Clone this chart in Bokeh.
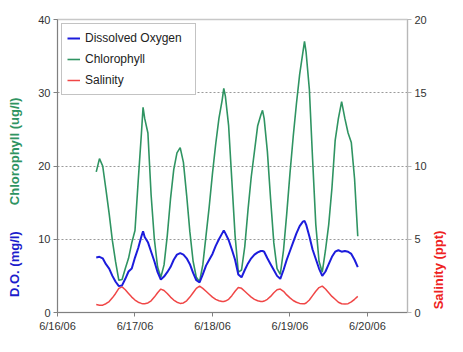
from math import pi
from bokeh.plotting import figure
from bokeh.layouts import row
from bokeh.models import Range1d, LinearAxis, FixedTicker, Legend, LegendItem
from bokeh.core.properties import value
from bokeh.embed import file_html
from bokeh.resources import INLINE

# hours after 6/16/06 00:00
hours = [12, 13, 14, 15, 16, 17, 18, 19, 20, 21, 22, 23, 24, 25, 26, 26.5,
         27, 28, 29, 30, 31, 32, 33, 34, 35, 36, 37, 38, 39, 40, 41, 42, 43,
         44, 45, 46, 47, 48, 49, 50, 51, 51.5, 52, 53, 54, 55, 56, 57, 58, 59,
         60, 61, 62, 63, 63.5, 64, 65, 66, 67, 68, 69, 70, 71, 72, 73, 74, 75,
         76, 76.5, 77, 78, 79, 80, 81, 82, 83, 84, 85, 86, 87, 88, 89, 90, 91,
         92, 93]

chlorophyll = [19.2, 21.0, 20.0, 16.8, 13.5, 9.8, 6.9, 4.4, 4.5, 6.0, 7.4, 9.5,
               11.2, 18.0, 24.5, 28.0, 26.5, 24.5, 16.0, 10.0, 6.2, 4.8, 6.5,
               10.5, 15.5, 19.5, 21.8, 22.5, 20.5, 16.0, 11.0, 7.0, 4.8, 4.2,
               6.5, 10.5, 14.5, 19.0, 23.0, 26.5, 29.0, 30.6, 29.5, 25.5, 18.0,
               10.5, 5.5, 5.8, 9.0, 14.0, 18.5, 22.0, 25.5, 27.0, 27.6, 26.5,
               22.0, 15.5, 9.5, 6.0, 5.2, 8.5, 13.5, 19.0, 24.0, 28.5, 32.5,
               35.5, 37.0, 35.5, 30.5, 21.0, 12.0, 7.0, 5.5, 8.5, 12.0, 17.0,
               23.5, 26.5, 28.8, 26.5, 24.5, 23.2, 18.3, 10.4]

dissolved_oxygen = [7.5, 7.6, 7.4, 6.6, 6.0, 5.0, 4.2, 3.6, 3.7, 4.6, 5.6, 6.0,
                    7.5, 8.8, 10.4, 11.1, 10.3, 9.6, 8.3, 7.0, 5.5, 4.5, 4.9,
                    5.5, 6.2, 7.2, 7.9, 8.1, 7.9, 7.4, 6.6, 5.4, 4.4, 4.1, 5.2,
                    6.4, 7.2, 8.0, 9.1, 10.0, 10.8, 11.2, 10.8, 9.9, 8.6, 7.2,
                    5.2, 4.8, 5.8, 6.7, 7.4, 7.9, 8.2, 8.4, 8.4, 8.3, 7.4, 6.6,
                    5.8, 5.0, 4.6, 5.8, 7.2, 8.4, 9.6, 10.8, 11.8, 12.4, 12.5,
                    12.0, 10.4, 8.6, 7.3, 6.0, 5.0, 5.6, 6.6, 7.6, 8.3, 8.5, 8.3,
                    8.4, 8.3, 8.0, 7.2, 6.2]

salinity = [0.55, 0.5, 0.5, 0.6, 0.75, 1.0, 1.3, 1.65, 1.75, 1.55, 1.3, 1.05,
            0.85, 0.7, 0.62, 0.6, 0.6, 0.65, 0.8, 1.05, 1.35, 1.6, 1.5, 1.3,
            1.05, 0.85, 0.7, 0.62, 0.65, 0.8, 1.05, 1.35, 1.65, 1.8, 1.65,
            1.45, 1.25, 1.05, 0.9, 0.8, 0.75, 0.75, 0.78, 0.9, 1.15, 1.45, 1.7,
            1.65, 1.45, 1.25, 1.05, 0.9, 0.8, 0.75, 0.75, 0.78, 0.9, 1.1, 1.35,
            1.55, 1.6, 1.45, 1.2, 1.0, 0.82, 0.7, 0.62, 0.6, 0.6, 0.65, 0.85,
            1.15, 1.45, 1.7, 1.8, 1.6, 1.35, 1.1, 0.9, 0.7, 0.6, 0.58, 0.6,
            0.72, 0.9, 1.1]

x_ticks = [0, 24, 48, 72, 96]
x_tick_labels = ["6/16/06", "6/17/06", "6/18/06", "6/19/06", "6/20/06"]
left_ticks = [0, 10, 20, 30, 40]
right_ticks = [0, 5, 10, 15, 20]

FONT = "Liberation Sans"
C_DO = "#1c1cdc"
C_CHL = "#2f9462"
C_SAL = "#f04646"

H = 336
TOP, BOTTOM = 19, 24
LW, RW = 24, 18

p = figure(width=447 - LW - RW, height=H, output_backend="svg", toolbar_location=None,
           x_range=Range1d(0, 108.4), y_range=Range1d(0, 40),
           min_border_left=33, min_border_right=19, min_border_top=TOP,
           min_border_bottom=BOTTOM, background_fill_color="white",
           border_fill_color="white")
p.outline_line_color = "#c8c8c8"
p.outline_line_width = 1.5

p.extra_y_ranges = {"sal": Range1d(0, 20)}
raxis = LinearAxis(y_range_name="sal", ticker=FixedTicker(ticks=right_ticks))
p.add_layout(raxis, "right")

p.xaxis.ticker = FixedTicker(ticks=x_ticks)
p.xaxis.major_label_overrides = {t: l for t, l in zip(x_ticks, x_tick_labels)}
p.yaxis[0].ticker = FixedTicker(ticks=left_ticks)

for ax in p.axis:
    ax.major_label_text_font = FONT
    ax.major_label_text_font_size = "11px"
    ax.major_label_text_color = "#333333"
    ax.major_tick_in = 0
    ax.major_tick_out = 4
    ax.minor_tick_out = 0
    ax.minor_tick_in = 0
    ax.major_label_standoff = 3
    ax.axis_line_color = "#808080"
    ax.major_tick_line_color = "#808080"
raxis.axis_line_color = "#b8b8b8"
raxis.major_tick_line_color = "#b8b8b8"

p.xgrid.visible = False
p.ygrid.ticker = FixedTicker(ticks=[10, 20, 30])
p.ygrid.grid_line_color = "#9a9a9a"
p.ygrid.grid_line_dash = "2 2"
p.ygrid.grid_line_width = 1

r_chl = p.line(hours, chlorophyll, line_color=C_CHL, line_width=1.6)
r_sal = p.line(hours, salinity, line_color=C_SAL, line_width=1.5, y_range_name="sal")
r_do = p.line(hours, dissolved_oxygen, line_color=C_DO, line_width=2)

legend = Legend(items=[LegendItem(label="Dissolved Oxygen", renderers=[r_do]),
                       LegendItem(label="Chlorophyll", renderers=[r_chl]),
                       LegendItem(label="Salinity", renderers=[r_sal])],
                location="top_left", margin=4, padding=5, spacing=3,
                label_height=18, glyph_height=18, glyph_width=13,
                label_standoff=5, label_width=105,
                label_text_font=FONT, label_text_font_size="12px",
                label_text_color="#222222",
                border_line_color="#888888", border_line_width=1,
                background_fill_color="white", background_fill_alpha=1)
p.add_layout(legend)


def label_panel(width, y_range, top, bottom):
    f = figure(width=width, height=H, output_backend="svg", toolbar_location=None,
               x_range=Range1d(0, width), y_range=y_range,
               x_axis_type=None, y_axis_type=None,
               min_border_left=0, min_border_right=0,
               min_border_top=top, min_border_bottom=bottom,
               background_fill_color="white", border_fill_color="white")
    f.outline_line_color = None
    f.xgrid.visible = False
    f.ygrid.visible = False
    return f


# left axis titles share the left axis scale
left = label_panel(LW, p.y_range, TOP, BOTTOM)
left.text(x=[14], y=[22.0], text=["Chlorophyll (ug/l)"], angle=pi / 2,
          text_align="center", text_baseline="middle", text_color=C_CHL,
          text_font=value(FONT), text_font_style="bold", text_font_size="13px")
left.text(x=[14], y=[6.6], text=["D.O. (mg/l)"], angle=pi / 2,
          text_align="center", text_baseline="middle", text_color="#1c1ccc",
          text_font=value(FONT), text_font_style="bold", text_font_size="13px")

# right axis title shares the salinity scale
right = label_panel(RW, p.extra_y_ranges["sal"], TOP, BOTTOM)
right.text(x=[9], y=[2.9], text=["Salinity (ppt)"], angle=pi / 2,
           text_align="center", text_baseline="middle", text_color="#ee2222",
           text_font=value(FONT), text_font_style="bold", text_font_size="13px")

layout = row(left, p, right)
open("out.html", "w").write(file_html(layout, INLINE))
